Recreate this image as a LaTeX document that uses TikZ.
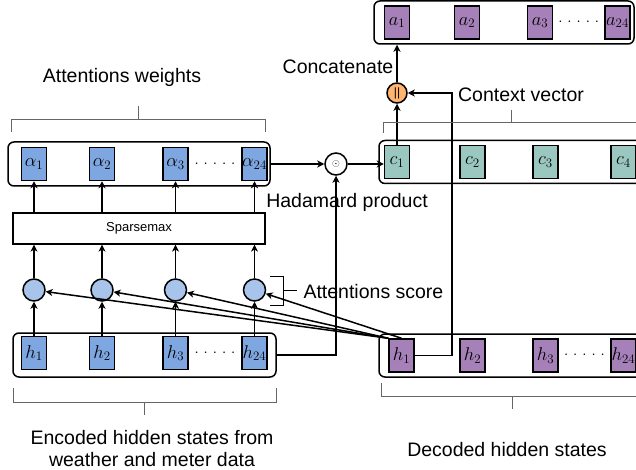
\RequirePackage{fix-cm}
\documentclass[tikz,border=0pt]{standalone}
\usepackage{fontspec}
\setmainfont{Liberation Sans}
\usepackage{tikz}
\usetikzlibrary{arrows,arrows.meta,positioning,calc}

\definecolor{encblue}{HTML}{7EA6E0}
\definecolor{scoreblue}{HTML}{A9C4EB}
\definecolor{decpurple}{HTML}{A680B8}
\definecolor{ctxgreen}{HTML}{9AC7BF}
\definecolor{catorange}{HTML}{FFB570}

\tikzset{
  cell/.style={draw, line width=1.5pt, minimum width=25pt, minimum height=33pt, inner sep=0pt, font=\fontsize{18.5}{20}\selectfont},
  group/.style={draw, line width=1.5pt, rounded corners=6pt, inner sep=0pt},
  op/.style={draw, circle, line width=1.5pt, minimum size=22pt, inner sep=0pt},
  brace/.style={draw=black!60, line width=0.8pt},
  txt/.style={font=\fontsize{19.5}{22}\selectfont},
  arr/.style={-{Stealth[length=7pt,width=7pt,inset=2pt]}, line width=1.5pt}
}
\newcommand{\fivedots}{${\cdot}\hspace{5pt}{\cdot}\hspace{5pt}{\cdot}\hspace{5pt}{\cdot}\hspace{5pt}{\cdot}$}

\begin{document}
\begin{tikzpicture}[x=1pt,y=-1pt]
\useasboundingbox (0,0) rectangle (636,470);

% encoder, scores, sparsemax, weights
\node[group, minimum width=263pt, minimum height=44pt] (enc) at (144.5,355) {};
\node[group, minimum width=262pt, minimum height=44pt] (alphas) at (139,164) {};
\node[draw, line width=1.2pt, minimum width=252pt, minimum height=31pt, font=\fontsize{13}{15}\selectfont] (smax) at (139,228.5) {Sparsemax};
\foreach \i/\x in {1/34,2/102,3/175.5,24/254.5} {
  \node[cell, fill=encblue] (h\i) at (\x,353) {$h_{\i}$};
  \node[op, fill=scoreblue] (s\i) at (\x,290) {};
  \node[cell, fill=encblue] (alpha\i) at (\x,164) {$\alpha_{\i}$};
  \draw[arr] (h\i) -- (s\i);
  \draw[arr] (s\i) -- (s\i |- smax.south);
  \draw[arr] (alpha\i |- smax.north) -- (alpha\i.south);
}
\node[font=\fontsize{15}{17}\selectfont] (hdots) at ($(h3)!0.5!(h24)$) {\fivedots};
\node[font=\fontsize{15}{17}\selectfont] (alphadots) at ($(alpha3)!0.5!(alpha24)$) {\fivedots};

% context vector and outputs
\node[group, minimum width=271pt, minimum height=43pt] (ctx) at (514.5,162) {};
\node[group, minimum width=260pt, minimum height=43pt] (outs) at (504,22.5) {};
\node[group, minimum width=271pt, minimum height=43pt] (dec) at (514.5,355.5) {};
\foreach \i/\x in {1/397,2/472.5,3/545.5,4/623.5}
  \node[cell, fill=ctxgreen] (c\i) at (\x,162) {$c_{\i}$};
\foreach \i/\x in {1/397,2/467,3/540,24/617.5}
  \node[cell, fill=decpurple] (a\i) at (\x,22.5) {$a_{\i}$};
\foreach \i/\x in {1/401.5,2/472.5,3/545.5,24/623.5}
  \node[cell, fill=decpurple] (dh\i) at (\x,355.5) {$h_{\i}$};
\node[font=\fontsize{15}{17}\selectfont] (adots) at ($(a3)!0.5!(a24)$) {\fivedots};
\node[font=\fontsize{15}{17}\selectfont] (dhdots) at ($(dh3)!0.5!(dh24)$) {\fivedots};

\node[op, fill=white] (had) at (336,164) {$\odot$};
\node[op, fill=catorange, minimum size=20pt, font=\fontsize{12}{14}\selectfont] (cat) at (397,93) {||};

\draw[arr] (alphas.east) -- (had.west);
\draw[arr] (enc.east) -| (had.south);
\draw[arr] (had.east) -- (had.east -| c1.west);
\draw[arr] (c1.north) -- (cat.south);
\draw[arr] (cat.north) -- (cat |- outs.south);
\draw[arr] (dh1.east) -- ++(37,0) |- (cat.east);
\foreach \i in {1,2,3}
  \draw[arr] (dh1.north west) -- (s\i);
\draw[arr] (dh1.north) -- (s24);

% brackets
\draw[brace] (11,132) -- (11,119) -- (265,119) -- (265,132) (138,119) -- (138,106);
\draw[brace] (13,388) -- (13,402) -- (276,402) -- (276,388) (144,402) -- (144,415);
\draw[brace] (383,133) -- (383,122) -- (645,122) (511,122) -- (511,110);
\draw[brace] (381,383) -- (381,396) -- (645,396) (512,396) -- (512,409);
\draw[line width=1pt] (270,276) -- (283,276) -- (283,305) -- (270,305) (283,290) -- (297,290);

% labels
\node[txt] (weightslbl) at (122,77) {Attentions weights};
\node[txt, anchor=west] (scorelbl) at (300,292) {Attentions score};
\node[txt] (hadlbl) at (347,202) {Hadamard product};
\node[txt] (catlbl) at (338,67) {Concatenate};
\node[txt] (ctxlbl) at (521,95) {Context vector};
\node[txt, align=center] (enclbl) at (152,449) {Encoded hidden states from\\weather and meter data};
\node[txt] (declbl) at (507,450) {Decoded hidden states};
\end{tikzpicture}
\end{document}
